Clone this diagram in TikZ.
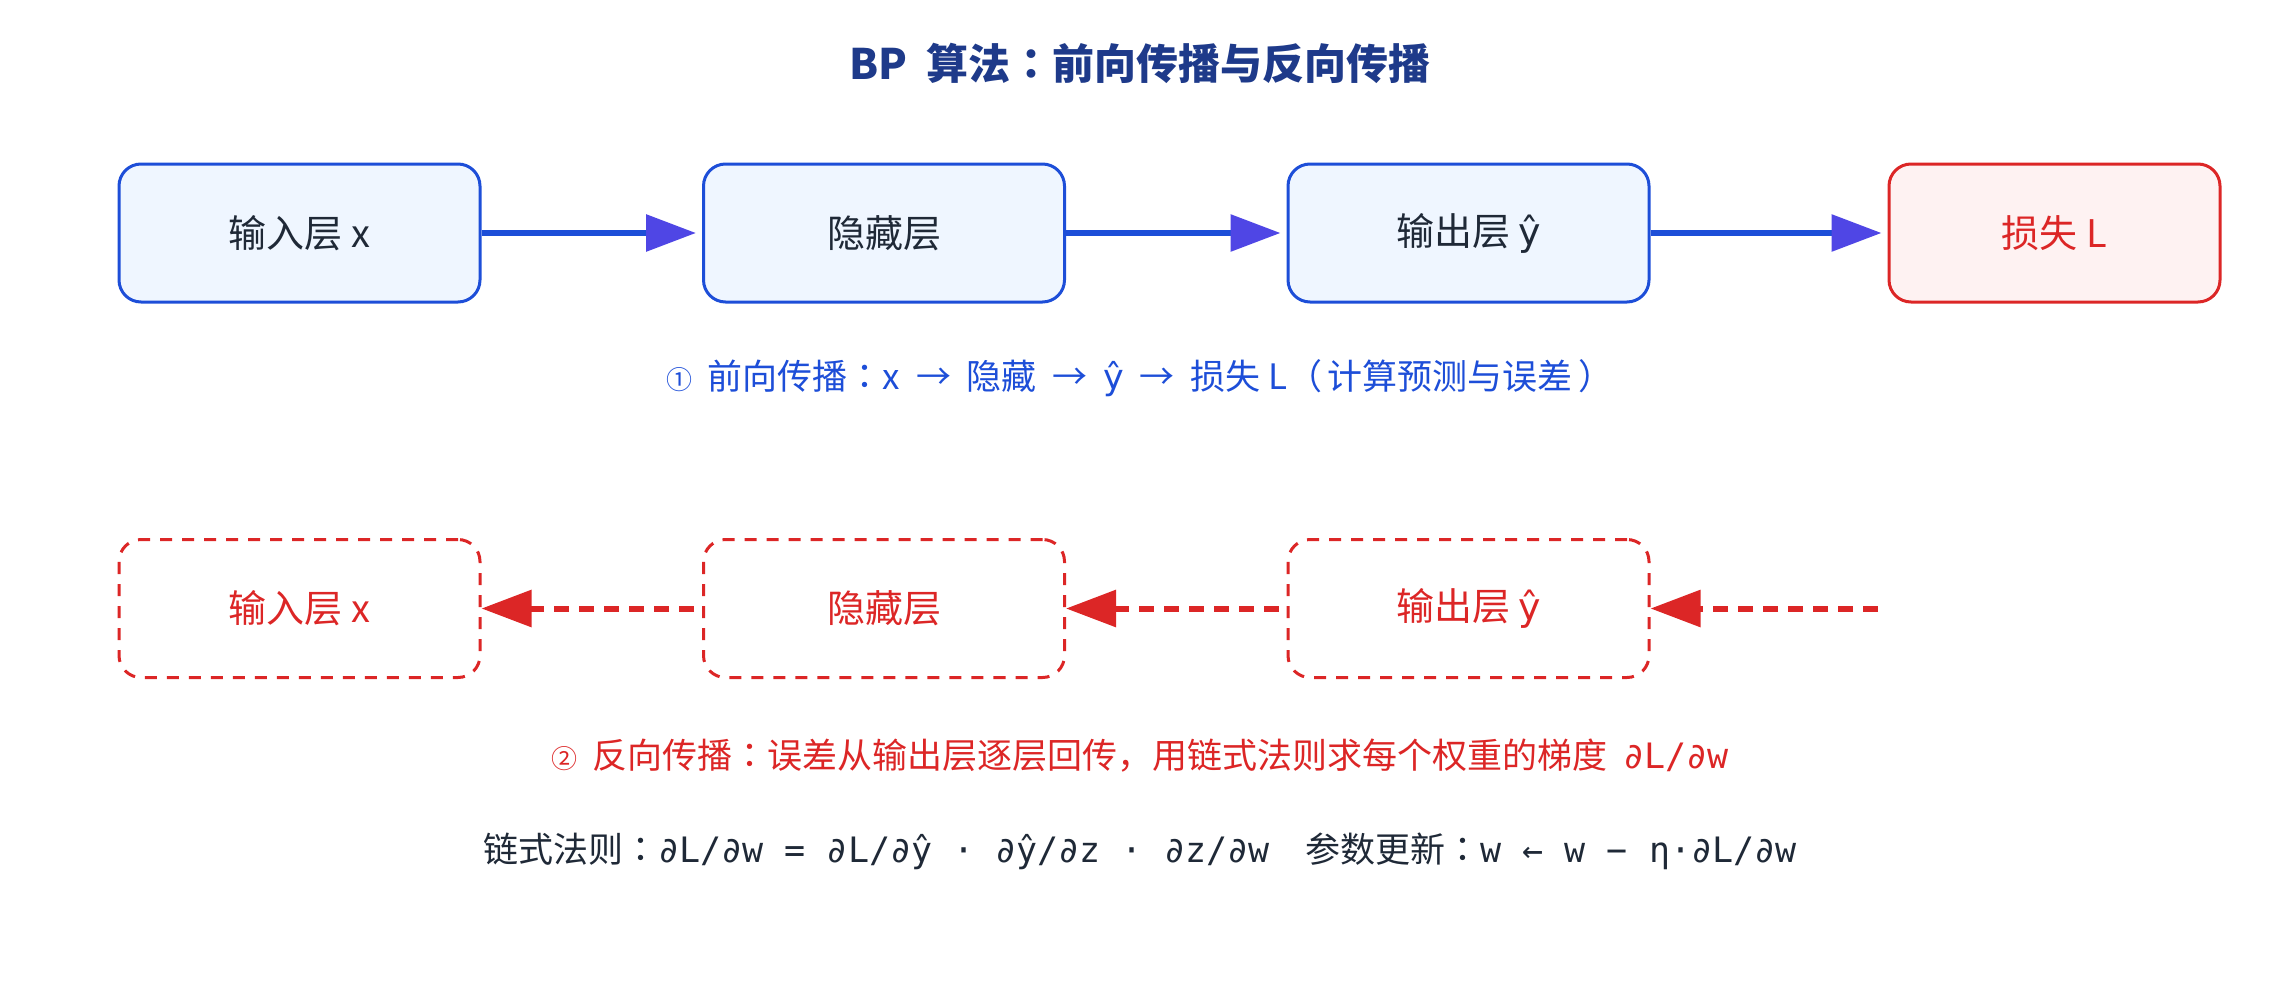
\documentclass[tikz,border=0pt]{standalone}
\usepackage{fontspec}
\setmainfont{Noto Sans CJK SC}
\newfontfamily\monofont{DejaVu Sans Mono}
\newfontfamily\latinfont{DejaVu Sans}
\newfontfamily\tcfont{Noto Sans CJK TC}
\newcommand\yhat{{\latinfont ŷ}}
\newcommand\fwcolon{{\tcfont ：}}
\usetikzlibrary{arrows.meta}
\definecolor{fwdblue}{HTML}{1D4ED8}
\definecolor{headblue}{HTML}{4F46E5}
\definecolor{bkred}{HTML}{DC2626}
\definecolor{titleblue}{HTML}{1E3A8A}
\definecolor{inkgray}{HTML}{1F2937}
\definecolor{fillblue}{HTML}{EFF6FF}
\definecolor{fillred}{HTML}{FEF2F2}
\tikzset{
layer/.style={draw=fwdblue,fill=fillblue,line width=3pt,rounded corners=22pt,minimum width=361pt,minimum height=138pt,text=inkgray,font=\fontsize{38}{40}\selectfont},
losslayer/.style={layer,draw=bkred,fill=fillred,text=bkred,minimum width=331pt},
backlayer/.style={layer,draw=bkred,fill=none,text=bkred,dash pattern=on 12pt off 10pt},
fwd/.style={draw=fwdblue,line width=6pt,-{Triangle[length=50pt,width=36pt,color=headblue]},shorten >=6pt},
bwd/.style={draw=bkred,line width=6pt,dash pattern=on 15pt off 10pt,-{Triangle[length=50pt,width=36pt]},shorten <=8pt},
caption/.style={font=\fontsize{35}{38}\selectfont}
}
\begin{document}
\begin{tikzpicture}[x=1pt,y=-1pt]
\useasboundingbox (0,0) rectangle (2280,990);
\node[text=titleblue,font=\bfseries\fontsize{42}{46}\selectfont] (title) at (1140,63) {BP\ \ 算法\fwcolon 前向传播与反向传播};
\node[layer] (in) at (299.5,233) {输入层 x};
\node[layer] (hid) at (884,233) {隐藏层};
\node[layer] (out) at (1468.5,233) {输出层 \yhat};
\node[losslayer] (loss) at (2054.5,233) {损失 L};
\draw[fwd] (in) -- (hid);
\draw[fwd] (hid) -- (out);
\draw[fwd] (out) -- (loss);
\node[caption,text=fwdblue] (fcap) at (1140,378) {{\fontsize{26}{28}\selectfont ①}\ \ 前向传播\fwcolon x\ \ →\ \ 隐藏\ \ →\ \ \yhat\ \ →\ \ 损失 L（\,计算预测与误差\,）};
\node[backlayer] (inb) at (299.5,608.5) {输入层 x};
\node[backlayer] (hidb) at (884,608.5) {隐藏层};
\node[backlayer] (outb) at (1468.5,608.5) {输出层 \yhat};
\coordinate (grad) at (1886,608.5);
\draw[bwd] (grad) -- (outb);
\draw[bwd] (outb) -- (hidb);
\draw[bwd] (hidb) -- (inb);
\node[caption,text=bkred] (bcap) at (1140,756) {{\fontsize{26}{28}\selectfont ②}\ \ 反向传播\fwcolon 误差从输出层逐层回传，用链式法则求每个权重的梯度\ \ {\monofont ∂L/∂w}};
\node[caption,text=inkgray] (rule) at (1140,851) {链式法则\fwcolon{\monofont ∂L/∂w = ∂L/∂ŷ · ∂ŷ/∂z · ∂z/∂w}\hspace{36pt}参数更新\fwcolon{\monofont w ← w − η·∂L/∂w}};
\end{tikzpicture}
\end{document}
